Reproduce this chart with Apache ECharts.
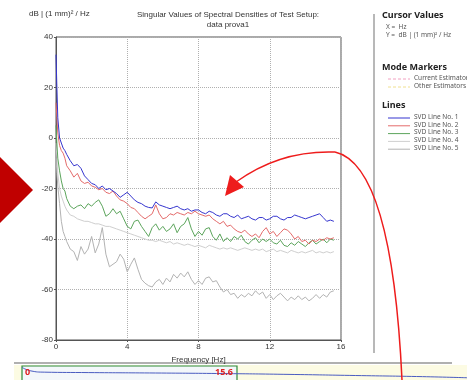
<!DOCTYPE html>
<html>
<head>
<meta charset="utf-8">
<script src="https://cdn.jsdelivr.net/npm/echarts@6/dist/echarts.min.js"></script>
<style>html,body{margin:0;padding:0;background:#fff;}#c{width:467px;height:380px;}</style>
</head>
<body>
<div id="c"></div>
<script>
const freq = [0,0.05,0.1,0.2,0.3,0.4,0.5,0.6,0.8,1.0,1.2,1.4,1.6,1.8,2.0,2.2,2.4,2.6,2.8,3.0,3.2,3.4,3.6,3.8,4.0,4.2,4.4,4.6,4.8,5.0,5.2,5.4,5.6,5.8,6.0,6.2,6.4,6.6,6.8,7.0,7.2,7.4,7.6,7.8,8.0,8.2,8.4,8.6,8.8,9.0,9.2,9.4,9.6,9.8,10.0,10.2,10.4,10.6,10.8,11.0,11.2,11.4,11.6,11.8,12.0,12.2,12.4,12.6,12.8,13.0,13.2,13.4,13.6,13.8,14.0,14.2,14.4,14.6,14.8,15.0,15.2,15.4,15.6];

const svd1 = [33,20,8,0,-2,-4,-5,-6.5,-9,-11,-10.5,-12,-15,-16.5,-18,-18.5,-20,-19,-20.5,-20,-21,-22,-23.5,-22.5,-21.5,-23,-24.5,-25.5,-26,-27,-27.5,-27.7,-25.3,-26.5,-27,-27.5,-28,-27.5,-27,-28,-28.5,-28,-29,-28.5,-28.5,-29.5,-30,-29,-29.5,-30.5,-31,-30,-30,-31,-31.5,-30.5,-32,-31.5,-31,-32,-32.5,-31.5,-31.5,-32.5,-32,-31,-31,-32,-32.5,-31.5,-31.5,-30.5,-31,-31.5,-32,-31.5,-31,-30.5,-30,-31.5,-33,-32.5,-33];
const svd2 = [14,8,2,-3,-5,-6,-8,-11,-13,-15.5,-14,-17,-18,-17.5,-19,-19.5,-20.5,-20,-21.5,-22,-21,-23,-24.5,-25,-26,-27.5,-28,-29.5,-31,-32,-31,-30,-26.5,-30,-32,-31.5,-30,-30.5,-29.5,-30,-30.5,-29.5,-30,-29,-30,-30.5,-31,-30.5,-32,-33,-34,-33,-35,-34.5,-36,-37,-37.5,-36.5,-38,-39,-38,-39.5,-37,-35.5,-38,-37,-39,-37.5,-36,-36.5,-38,-40,-39,-41,-40.5,-42,-40.5,-41,-40,-40.5,-39.5,-40,-39.5];
const svd3 = [5,-2,-8,-13,-17,-20,-21,-24,-27,-28,-27,-26.5,-28,-26,-27,-25.5,-24.5,-27,-31,-30,-28,-30,-29,-32,-35,-36,-33,-32.5,-35,-37,-39,-35.5,-34,-36.5,-35,-37,-36,-34,-37.5,-35,-34,-31.5,-36,-39,-37,-38.5,-36,-35.5,-39,-40.5,-38,-41,-39.5,-41,-39,-40,-38.5,-41,-42,-40.5,-39.5,-41.5,-40,-41,-40,-41.5,-42,-40.5,-42.5,-43,-41.5,-42.5,-41,-42,-43,-41.5,-40.5,-42,-41,-40,-41.5,-40,-40.5];
const svd4 = [-2,-8,-14,-20,-23,-25,-27,-28.5,-30.5,-31,-32,-32.5,-33,-33,-33.5,-34,-34,-34.5,-35,-35,-35.5,-36,-36.5,-37,-37.5,-38,-38.5,-39,-39.5,-40,-40.5,-40.5,-41,-40.5,-41,-41.5,-41,-42,-41.5,-42,-42.5,-42,-42.5,-43,-42.5,-43,-43.5,-42.5,-43,-43.5,-44,-43.5,-44,-43.5,-44,-44.5,-44,-43.5,-44,-44.5,-44,-44.5,-44,-45,-44.5,-44,-45,-44.5,-45,-45.5,-44.5,-45,-45.5,-45,-45.5,-45,-44.5,-45.5,-45,-45.5,-45,-45.5,-45];
const svd5 = [-8,-14,-19,-26,-33,-37,-39,-41,-44,-45,-48.5,-43,-46,-44,-39,-45.5,-42,-35.5,-46,-51,-50,-49,-46,-48,-53,-50,-47.5,-52,-56,-57.5,-58.5,-59,-57,-56,-58,-55.5,-57,-54,-55.5,-53.5,-55,-53,-56,-58,-56.5,-58,-55.5,-55,-57,-56.5,-59,-61,-60,-62,-61.5,-63.5,-62,-63,-61.5,-62.5,-60.5,-62,-61,-63.5,-62,-64,-62.5,-61.5,-63,-64.5,-63,-64,-62.5,-64,-63,-64.5,-63.5,-62,-63.5,-62,-63,-61,-60.5];

const seriesNames = ['SVD Line No. 1','SVD Line No. 2','SVD Line No. 3','SVD Line No. 4','SVD Line No. 5'];
const seriesColors = ['#3535cf','#e46b6b','#5ca55c','#cfcfcf','#b3b3b3'];
const xTicks = [0,4,8,12,16];
const yTicks = [-80,-60,-40,-20,0,20,40];

// overview strip (thumbnail) values
const stripX = [0,2,5,15,30,45,60,75,90,100];
const stripY = [9,6.5,5.6,5.3,5,4.6,4,3.2,2.4,1.6];

const allSvd = [svd1,svd2,svd3,svd4,svd5];
const chart = echarts.init(document.getElementById('c'), null, {renderer:'canvas'});

const lbl = {fontFamily:'Liberation Sans, Arial, sans-serif', fontSize:8, color:'#333'};
const pf = 'Noto Sans, Open Sans, sans-serif';

const series = allSvd.map((d,i)=>({
  name: seriesNames[i], type:'line', xAxisIndex:0, yAxisIndex:0,
  data: freq.map((f,k)=>[f,d[k]]), showSymbol:false, symbol:'none',
  lineStyle:{width:1,color:seriesColors[i]}, itemStyle:{color:seriesColors[i]},
  z: 10 - i, animation:false
}));
series.push({
  type:'line', xAxisIndex:1, yAxisIndex:1, data: stripX.map((x,k)=>[x,stripY[k]]),
  showSymbol:false, symbol:'none', smooth:true, lineStyle:{width:1,color:'#4a5cc0'}, animation:false
});

const legendItems = [];
seriesNames.forEach((n,i)=>{
  const y = 118 + i*7.8;
  legendItems.push({type:'line', shape:{x1:388,y1:y,x2:410,y2:y}, style:{stroke:seriesColors[i], lineWidth:1}});
  legendItems.push({type:'text', left:414, top:y-4.5, style:{text:n, font:'6.5px '+pf, fill:'#555'}});
});

chart.setOption({
  animation:false,
  backgroundColor:'#ffffff',
  grid:[
    {left:56, top:37, width:285, height:303, show:true, borderColor:'#555', borderWidth:1, backgroundColor:'#fff'},
    {left:22, top:366, width:445, height:14, show:false}
  ],
  xAxis:[
    {type:'value', gridIndex:0, min:0, max:16, interval:4,
     axisLine:{show:true, onZero:false, lineStyle:{color:'#555'}}, axisTick:{show:true, length:2, lineStyle:{color:'#555'}},
     axisLabel:Object.assign({margin:3}, lbl),
     splitLine:{show:true, lineStyle:{color:'#b0b0b0', type:'dotted', width:1}},
     name:'Frequency [Hz]', nameLocation:'middle', nameGap:13, nameTextStyle:lbl},
    {type:'value', gridIndex:1, min:0, max:100, show:false}
  ],
  yAxis:[
    {type:'value', gridIndex:0, min:-80, max:40, interval:20,
     axisLine:{show:true, onZero:false, lineStyle:{color:'#555'}}, axisTick:{show:true, length:2, lineStyle:{color:'#555'}},
     axisLabel:Object.assign({margin:3}, lbl),
     splitLine:{show:true, lineStyle:{color:'#b0b0b0', type:'dotted', width:1}}},
    {type:'value', gridIndex:1, min:0, max:10, show:false}
  ],
  series: series,
  graphic:[
    {type:'text', left:29, top:10, style:{text:'dB | (1 mm)² / Hz', font:'8px Liberation Sans, Arial, sans-serif', fill:'#333'}},
    {type:'text', x:228, y:10, style:{text:'Singular Values of Spectral Densities of Test Setup:\ndata prova1', font:'8px Liberation Sans, Arial, sans-serif', fill:'#333', textAlign:'center', lineHeight:10}},
    // panel separator
    {type:'line', shape:{x1:374,y1:14,x2:374,y2:353}, style:{stroke:'#a0a0a0', lineWidth:1.5}},
    {type:'text', left:382, top:11, style:{text:'Cursor Values', font:'bold 9px '+pf, fill:'#222'}},
    {type:'text', left:386, top:24, style:{text:'X =  Hz', font:'6.5px '+pf, fill:'#555'}},
    {type:'text', left:386, top:32, style:{text:'Y =  dB | (1 mm)² / Hz', font:'6.5px '+pf, fill:'#555'}},
    {type:'text', left:382, top:63, style:{text:'Mode Markers', font:'bold 9px '+pf, fill:'#222'}},
    {type:'line', shape:{x1:388,y1:79,x2:410,y2:79}, style:{stroke:'#f2a0c0', lineWidth:1, lineDash:[3,2]}},
    {type:'text', left:414, top:74.5, style:{text:'Current Estimator', font:'6.5px '+pf, fill:'#555'}},
    {type:'line', shape:{x1:388,y1:87,x2:410,y2:87}, style:{stroke:'#f0e090', lineWidth:1, lineDash:[3,2]}},
    {type:'text', left:414, top:82.5, style:{text:'Other Estimators', font:'6.5px '+pf, fill:'#555'}},
    {type:'text', left:382, top:101, style:{text:'Lines', font:'bold 9px '+pf, fill:'#222'}},
    ...legendItems,
    // bottom overview strip
    {type:'rect', shape:{x:14,y:365,width:453,height:15}, style:{fill:'#fcfbe3'}, z:-10},
    {type:'line', shape:{x1:14,y1:363,x2:452,y2:363}, style:{stroke:'#b0b0b0', lineWidth:2}},
    {type:'rect', shape:{x:22,y:366,width:215,height:16}, style:{fill:'#f3f7fa', stroke:'#2e8b3a', lineWidth:1.2}, z:-5},
    {type:'text', left:25, top:368, style:{text:'0', font:'bold 9px '+pf, fill:'#e02020'}, z:50},
    {type:'text', x:233, y:368, style:{text:'15.6', font:'bold 9px '+pf, fill:'#e02020', textAlign:'right'}, z:50},
    // annotations
    {type:'polygon', shape:{points:[[0,157],[33,190],[0,223]]}, style:{fill:'#c00000'}, z:60},
    {type:'bezierCurve', shape:{x1:402,y1:380,cpx1:392,cpy1:165,x2:335,y2:152}, style:{stroke:'#ee1c1c', lineWidth:1.5, fill:null}, z:60},
    {type:'bezierCurve', shape:{x1:335,y1:152,cpx1:280,cpy1:150,x2:236,y2:182}, style:{stroke:'#ee1c1c', lineWidth:1.5, fill:null}, z:60},
    {type:'polygon', shape:{points:[[225,196],[230,175],[244,187]]}, style:{fill:'#ee1c1c'}, z:60}
  ]
});
</script>
</body>
</html>
